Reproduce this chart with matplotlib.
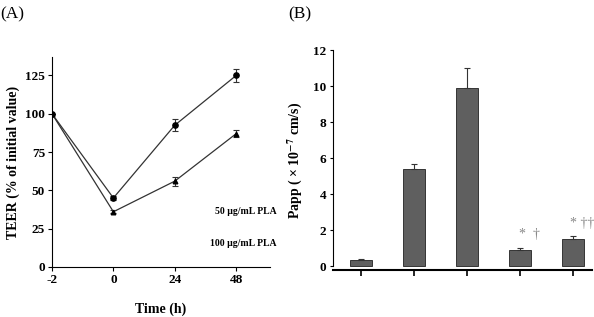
import numpy as np
import matplotlib
matplotlib.use("Agg")
import matplotlib.pyplot as plt

plt.rcParams['font.family'] = ['Liberation Serif', 'DejaVu Serif']
plt.rcParams['font.weight'] = 'bold'
plt.rcParams['mathtext.fontset'] = 'stix'

# panel A: TEER over time
time_labels = ["-2", "0", "24", "48"]
teer_50 = [100, 45, 92.5, 125]
teer_50_err = [0, 1.5, 4, 4.5]
teer_100 = [100, 36, 56, 87]
teer_100_err = [0, 1, 3, 2.5]
series_labels = ["50 \u03bcg/mL PLA", "100 \u03bcg/mL PLA"]

# panel B: permeability
papp = [0.35, 5.4, 9.9, 0.9, 1.5]
papp_err = [0.05, 0.3, 1.1, 0.12, 0.15]
papp_marks = ["", "", "", "*  \u2020", "* \u2020\u2020"]

fig = plt.figure(figsize=(5.94, 3.17), dpi=100)

# ---------- (A) ----------
ax = fig.add_axes([0.0875, 0.158, 0.367, 0.662])
x = np.arange(len(time_labels))
ax.errorbar(x, teer_50, yerr=teer_50_err, color='#333333', lw=0.9,
            marker='o', ms=3.8, mfc='black', mec='black',
            capsize=2, elinewidth=0.8, capthick=0.8)
ax.errorbar(x, teer_100, yerr=teer_100_err, color='#333333', lw=0.9,
            marker='^', ms=3.3, mfc='black', mec='black',
            capsize=2, elinewidth=0.8, capthick=0.8)
ax.set_xlim(0, 3.55)
ax.set_ylim(0, 137)
ax.set_xticks(x)
ax.set_xticklabels(time_labels)
ax.set_yticks([0, 25, 50, 75, 100, 125])
ax.spines['top'].set_visible(False)
ax.spines['right'].set_visible(False)
ax.tick_params(direction='out', length=3, width=0.8, labelsize=9.5, pad=2)
ax.set_xlabel("Time (h)", fontsize=10, fontweight='bold', labelpad=12)
ax.set_ylabel("TEER (% of initial value)", fontsize=10, fontweight='bold', labelpad=4)
ax.text(1.03, 0.265, series_labels[0], transform=ax.transAxes, ha='right',
        va='center', fontsize=7, fontweight='bold')
ax.text(1.03, 0.11, series_labels[1], transform=ax.transAxes, ha='right',
        va='center', fontsize=7, fontweight='bold')
fig.text(0.0, 0.955, "(A)", fontsize=12.5, fontweight='normal', va='center')

# ---------- (B) ----------
bx = fig.add_axes([0.5606, 0.148, 0.436, 0.694])
xb = np.arange(len(papp))
bx.bar(xb, papp, width=0.4, color='#5f5f5f', edgecolor='#222222', lw=0.6)
bx.errorbar(xb, papp, yerr=[np.zeros(len(papp)), papp_err], fmt='none',
            ecolor='#333333', elinewidth=0.8, capsize=2.5, capthick=0.8)
for xi, yi, ei, m in zip(xb, papp, papp_err, papp_marks):
    if m:
        bx.text(xi + 0.17, yi + ei + 0.35, m, ha='center', va='bottom',
                fontsize=10, color='#888888', fontweight='normal')
bx.set_xlim(-0.53, 4.36)
bx.set_ylim(-0.22, 12)
bx.set_yticks([0, 2, 4, 6, 8, 10, 12])
bx.set_xticks(xb)
bx.set_xticklabels([""] * len(papp))
bx.spines['top'].set_visible(False)
bx.spines['right'].set_visible(False)
bx.spines['left'].set_bounds(0, 12)
bx.spines['bottom'].set_linewidth(1.5)
bx.tick_params(axis='y', direction='out', length=2, width=0.8, labelsize=9.5, pad=3)
bx.tick_params(axis='x', direction='out', length=4, width=1.2)
bx.set_ylabel("Papp ( \u00d7 10$^{-7}$ cm/s)", fontsize=10, fontweight='bold', labelpad=6)
fig.text(0.485, 0.955, "(B)", fontsize=12.5, fontweight='normal', va='center')

fig.savefig("out.png", dpi=100)
